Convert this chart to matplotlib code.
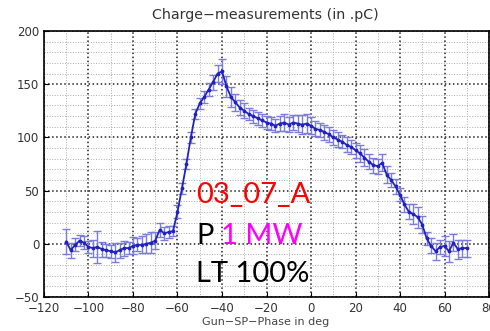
import matplotlib
matplotlib.use('Agg')
import matplotlib.pyplot as plt
import numpy as np
from matplotlib.ticker import MultipleLocator

# charge vs gun phase
phase = list(range(-110, 71, 2))
charge = [2, -6, -1, 3, 1, -3, -4, -3, -5, -6,
          -7, -8, -6, -4, -4, -2, -1, -1, 0, 1,
          3, 13, 10, 11, 12, 30, 52, 75, 100, 122,
          132, 138, 145, 152, 160, 162, 148, 138, 133, 128,
          125, 122, 120, 118, 116, 114, 113, 111, 113, 114,
          112, 114, 113, 112, 113, 111, 108, 107, 105, 103,
          100, 98, 96, 93, 91, 88, 85, 81, 77, 74,
          73, 76, 65, 60, 54, 46, 37, 30, 28, 25,
          18, 5, -2, -7, -3, -2, -7, 1, -5, -4, -4]
err = [12, 7, 6, 5, 6, 6, 8, 15, 7, 6,
       6, 9, 7, 7, 6, 8, 6, 8, 9, 10,
       8, 7, 6, 6, 5, 6, 5, 5, 5, 5,
       5, 6, 6, 7, 8, 12, 10, 9, 8, 7,
       7, 6, 6, 6, 6, 6, 6, 6, 7, 8,
       7, 7, 8, 9, 9, 8, 7, 7, 7, 7,
       7, 7, 6, 7, 7, 7, 8, 8, 7, 7,
       7, 8, 8, 7, 7, 6, 7, 7, 9, 10,
       8, 6, 7, 8, 7, 9, 10, 8, 9, 8, 8]

title = 'Charge\u2212measurements (in .pC)'
xlabel = 'Gun\u2212SP\u2212Phase in deg'

fig = plt.figure(figsize=(4.9, 3.31), dpi=100)
ax = fig.add_axes([44/490, 34/331, 445/490, 266/331])

ax.errorbar(phase, charge, yerr=err, fmt='-', marker='.', ms=3.5,
            color='#2222c0', lw=1.3, ecolor='#7c7cdc', elinewidth=1.0,
            capsize=3, capthick=1.0)

ax.set_xlim(-120, 80)
ax.set_ylim(-50, 200)
ax.xaxis.set_major_locator(MultipleLocator(20))
ax.xaxis.set_minor_locator(MultipleLocator(10))
ax.yaxis.set_major_locator(MultipleLocator(50))
ax.yaxis.set_minor_locator(MultipleLocator(10))
ax.grid(which='major', linestyle=':', linewidth=1.1, color='#222222')
ax.grid(which='minor', linestyle=':', linewidth=0.7, color='#aaaaaa')
ax.set_axisbelow(True)
ax.tick_params(which='both', direction='in', labelsize=8.5, labelcolor='#333333')
ax.tick_params(which='minor', length=0)
for s in ax.spines.values():
    s.set_linewidth(1.2)

fig.text(265/490, 1 - 15/331, title, ha='center', va='center', fontsize=10.3, color='#333333')
fig.text(266/490, 1 - 322/331, xlabel, ha='center', va='center', fontsize=8, color='#444444')

ax.text(-51.7, 38, '03_07_A', color='#ff0000', fontsize=21, family='Lato', va='baseline')
ax.text(-51.7, 0, 'P', color='black', fontsize=21, family='Lato', va='baseline')
ax.text(-40.5, 0, '1 MW', color='#ff00ff', fontsize=21, family='Lato', va='baseline')
ax.text(-51.7, -36, 'LT 100%', color='black', fontsize=21, family='Lato', va='baseline')

fig.savefig('out.png', dpi=100)
